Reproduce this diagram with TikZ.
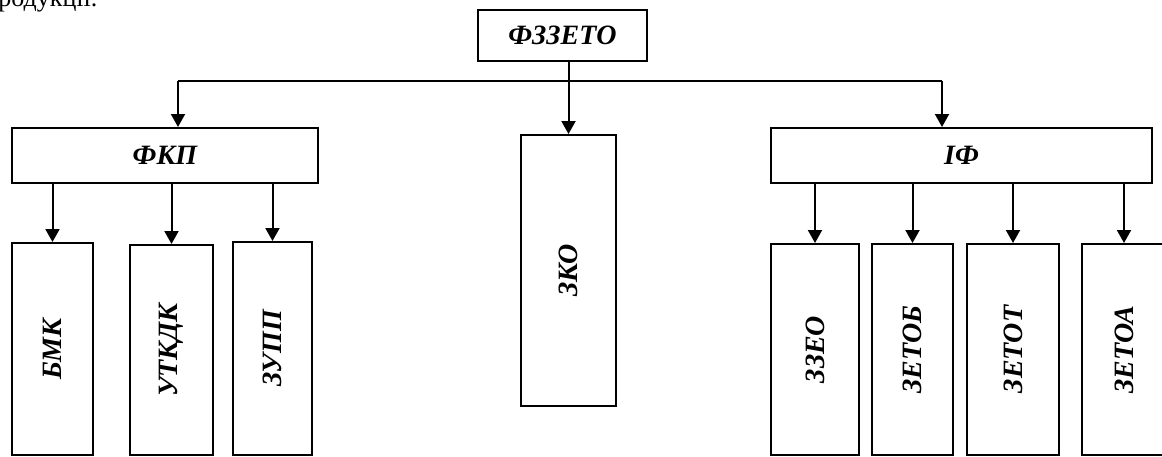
\documentclass[tikz,border=0pt]{standalone}
\usepackage{fontspec}
\setmainfont{Liberation Serif}
\usetikzlibrary{arrows.meta,positioning}
\definecolor{Ink}{HTML}{000000}

\begin{document}
\begin{tikzpicture}[x=0.5pt, y=-0.5pt,
    every node/.style={inner sep=0pt, font=\fontsize{14}{16}\selectfont\bfseries\itshape},
    unit/.style={draw=Ink, line width=1pt, fill=white},
    arr/.style={Ink, line width=1pt, -{Triangle[width=7pt,length=6.5pt]}}]
    \useasboundingbox (0,0) rectangle (1162,456);
    \node[anchor=base west, font=\fontsize{13}{15}\selectfont] (prev) at (-2,6) {родукції.};
    \node[unit, minimum width=84.5pt, minimum height=25.5pt] (top) at (562.5,35.5) {ФЗЗЕТО};
    \node[unit, minimum width=153pt, minimum height=27.5pt] (fkp) at (165,155.5) {ФКП};
    \node[unit, minimum width=190.5pt, minimum height=27.5pt] (if) at (961.5,155.5) {ІФ};
    \node[unit, minimum width=47.5pt, minimum height=135.5pt] (zko) at (568.5,270.5) {\rotatebox{90}{ЗКО}};
    \node[unit, minimum width=40.5pt, minimum height=106pt] (bmk) at (52.5,349) {\rotatebox{90}{БМК}};
    \node[unit, minimum width=41.5pt, minimum height=105pt] (utkdk) at (171.5,350) {\rotatebox{90}{УТКДК}};
    \node[unit, minimum width=39.5pt, minimum height=106.5pt] (zupp) at (272.5,348.5) {\rotatebox{90}{ЗУПП}};
    \node[unit, minimum width=44pt, minimum height=105.5pt] (zzeo) at (815,349.5) {\rotatebox{90}{ЗЗЕО}};
    \node[unit, minimum width=40.5pt, minimum height=105.5pt] (zetob) at (912.5,349.5) {\rotatebox{90}{ЗЕТОБ}};
    \node[unit, minimum width=46pt, minimum height=105.5pt] (zetot) at (1013,349.5) {\rotatebox{90}{ЗЕТОТ}};
    \node[unit, minimum width=42pt, minimum height=105.5pt] (zetoa) at (1124,349.5) {\rotatebox{90}{ЗЕТОА}};
    \coordinate (hl) at (178,81);
    \coordinate (hr) at (942,81);
    \draw[Ink, line width=1pt] (hl) -- (hr);
    \draw[arr] (zko.north |- top.south) -- (zko.north);
    \draw[arr] (hl) -- (hl |- fkp.north);
    \draw[arr] (hr) -- (hr |- if.north);
    \draw[arr] (fkp.south -| bmk.north) -- (bmk.north);
    \draw[arr] (fkp.south -| utkdk.north) -- (utkdk.north);
    \draw[arr] (fkp.south -| zupp.north) -- (zupp.north);
    \draw[arr] (if.south -| zzeo.north) -- (zzeo.north);
    \draw[arr] (if.south -| zetob.north) -- (zetob.north);
    \draw[arr] (if.south -| zetot.north) -- (zetot.north);
    \draw[arr] (if.south -| zetoa.north) -- (zetoa.north);
  \end{tikzpicture}
\end{document}
